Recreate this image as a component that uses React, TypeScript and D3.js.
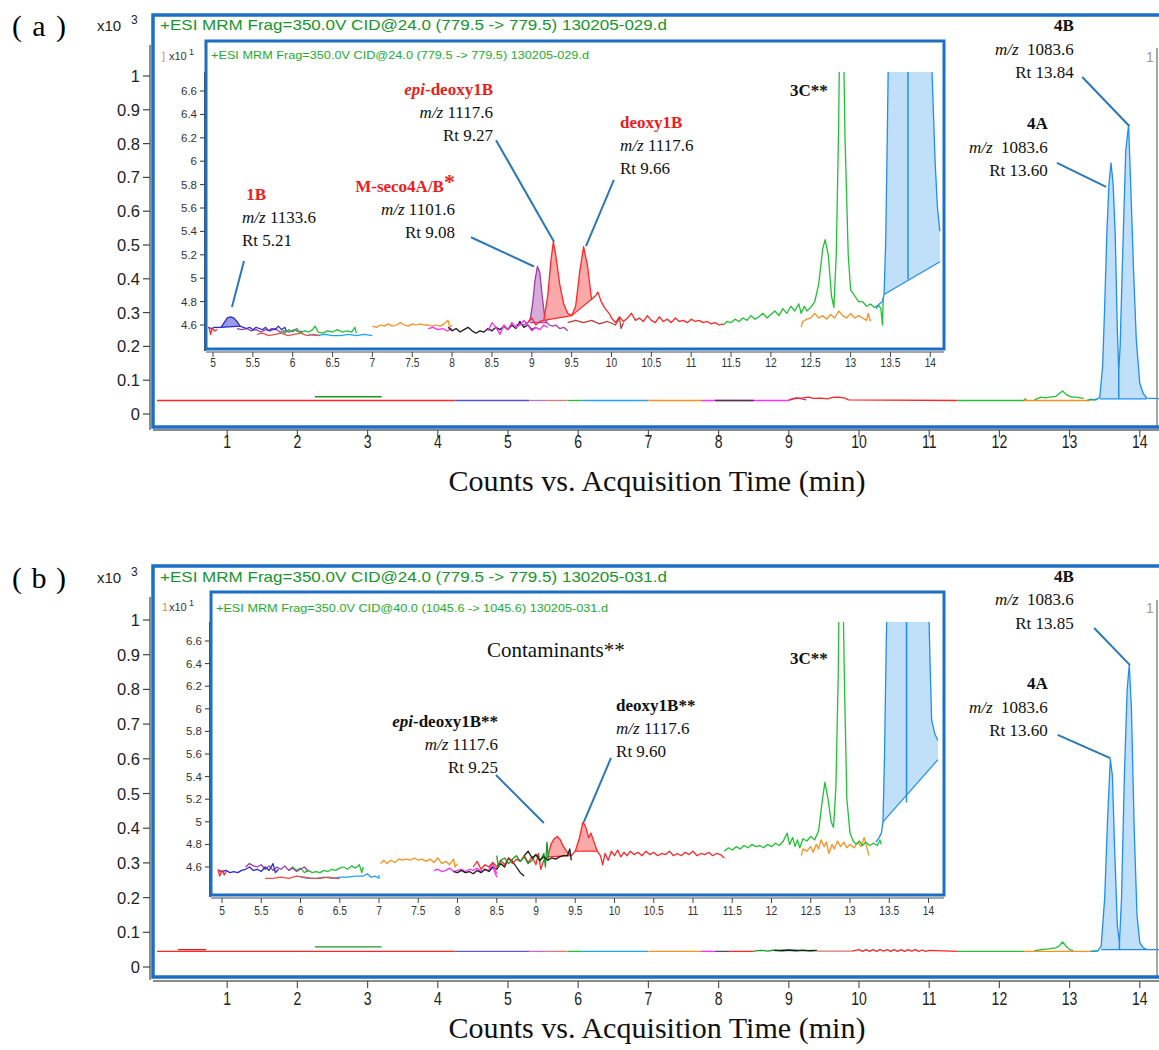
import * as d3 from 'd3';

type Pt = [number, number];

// ---------------- tick labels ----------------
const mainXTicks = [1, 2, 3, 4, 5, 6, 7, 8, 9, 10, 11, 12, 13, 14];
const mainYTicks = [0, 0.1, 0.2, 0.3, 0.4, 0.5, 0.6, 0.7, 0.8, 0.9, 1];
const insetXTicks = [5, 5.5, 6, 6.5, 7, 7.5, 8, 8.5, 9, 9.5, 10, 10.5, 11, 11.5, 12, 12.5, 13, 13.5, 14];
const insetYTicks = [4.6, 4.8, 5, 5.2, 5.4, 5.6, 5.8, 6, 6.2, 6.4, 6.6];

// ---------------- (a) main chromatogram, counts x10^3 vs min ----------------
const mainA_red: Pt[] = [[0, 0.04], [4.25, 0.04]];
const mainA_green0: Pt[] = [[2.25, 0.051], [3.2, 0.051]];
const mainA_indigo: Pt[] = [[4.25, 0.04], [5.3, 0.04]];
const mainA_mauve: Pt[] = [[5.3, 0.04], [5.55, 0.04]];
const mainA_rose: Pt[] = [[5.55, 0.04], [5.85, 0.04]];
const mainA_green1: Pt[] = [[5.85, 0.04], [6.05, 0.04]];
const mainA_sky: Pt[] = [[6.05, 0.04], [7.0, 0.04]];
const mainA_orange: Pt[] = [[7.0, 0.04], [7.75, 0.04]];
const mainA_magenta: Pt[] = [[7.75, 0.04], [7.95, 0.04], [8.5, 0.04], [9.0, 0.04]];
const mainA_black: Pt[] = [[7.95, 0.04], [8.5, 0.04]];
const mainA_purple: Pt[] = [[9.0, 0.041], [9.05, 0.045], [9.1, 0.048], [9.15, 0.046], [9.25, 0.042]];
const mainA_red2: Pt[] = [[9.0, 0.041], [9.1, 0.046], [9.2, 0.048], [9.28, 0.05], [9.35, 0.046], [9.45, 0.047], [9.55, 0.045], [9.62, 0.049], [9.7, 0.05], [9.8, 0.047], [9.85, 0.042], [11.4, 0.04]];
const mainA_green2: Pt[] = [[11.4, 0.04], [12.35, 0.04], [12.37, 0.045], [12.38, 0.04]];
const mainA_orange2: Pt[] = [[12.35, 0.04], [13.3, 0.04]];
const mainA_green3: Pt[] = [[12.5, 0.042], [12.55, 0.046], [12.6, 0.05], [12.65, 0.048], [12.72, 0.05], [12.8, 0.052], [12.85, 0.06], [12.9, 0.068], [12.95, 0.058], [13.0, 0.052], [13.05, 0.05], [13.1, 0.05], [13.15, 0.048], [13.2, 0.046]];
const mainA_green4: Pt[] = [[13.25, 0.04], [13.3, 0.044], [13.35, 0.041], [13.4, 0.043]];
const mainA_blue: Pt[] = [[13.3, 0.042], [13.38, 0.043], [13.43, 0.05], [13.47, 0.14], [13.5, 0.32], [13.53, 0.53], [13.56, 0.68], [13.59, 0.743], [13.62, 0.68], [13.65, 0.53], [13.68, 0.25], [13.7, 0.124], [13.72, 0.2], [13.75, 0.43], [13.8, 0.78], [13.84, 0.855], [13.87, 0.68], [13.91, 0.43], [13.95, 0.22], [14.0, 0.09], [14.05, 0.06], [14.1, 0.047], [14.3, 0.045]];

// ---------------- (a) inset, counts x10 vs min ----------------
const insA_blue: Pt[] = [[4.94, 4.58], [4.98, 4.57], [5.02, 4.58], [5.06, 4.58], [5.1, 4.58], [5.14, 4.62], [5.18, 4.66], [5.22, 4.67], [5.26, 4.66], [5.3, 4.63], [5.34, 4.59], [5.38, 4.58], [5.42, 4.57], [5.46, 4.58], [5.5, 4.56], [5.54, 4.58], [5.58, 4.57], [5.62, 4.56], [5.66, 4.58], [5.7, 4.55], [5.74, 4.57], [5.78, 4.56], [5.82, 4.59], [5.86, 4.56], [5.9, 4.58], [5.92, 4.55]];
const insA_red1: Pt[] = [[4.95, 4.58], [4.97, 4.52], [4.99, 4.57], [5.02, 4.55], [5.05, 4.56]];
const insA_purple1: Pt[] = [[5.3, 4.57], [5.36, 4.56], [5.42, 4.57], [5.48, 4.55], [5.54, 4.56], [5.6, 4.54], [5.66, 4.56], [5.72, 4.55], [5.78, 4.57], [5.84, 4.54], [5.9, 4.55], [5.96, 4.54], [6.02, 4.56], [6.08, 4.54], [6.12, 4.55]];
const insA_red2: Pt[] = [[5.55, 4.52], [5.62, 4.53], [5.7, 4.51], [5.78, 4.52], [5.86, 4.53], [5.94, 4.51], [6.02, 4.52], [6.1, 4.53], [6.18, 4.51], [6.26, 4.52], [6.34, 4.51]];
const insA_green1: Pt[] = [[5.86, 4.55], [5.9, 4.53], [5.95, 4.56], [6.0, 4.54], [6.05, 4.57], [6.1, 4.53], [6.15, 4.55], [6.2, 4.54], [6.25, 4.56], [6.28, 4.59], [6.32, 4.54], [6.38, 4.53], [6.44, 4.55], [6.5, 4.54], [6.56, 4.56], [6.62, 4.54], [6.68, 4.55], [6.74, 4.54], [6.78, 4.58], [6.8, 4.53]];
const insA_sky: Pt[] = [[6.2, 4.52], [6.3, 4.51], [6.4, 4.52], [6.5, 4.51], [6.6, 4.51], [6.7, 4.52], [6.8, 4.51], [6.9, 4.52], [7.0, 4.51]];
const insA_orange: Pt[] = [[7.0, 4.59], [7.05, 4.58], [7.1, 4.6], [7.15, 4.59], [7.2, 4.61], [7.25, 4.59], [7.3, 4.6], [7.35, 4.62], [7.4, 4.6], [7.45, 4.59], [7.5, 4.61], [7.55, 4.6], [7.6, 4.61], [7.65, 4.6], [7.7, 4.6], [7.75, 4.59], [7.8, 4.6], [7.85, 4.59], [7.9, 4.61], [7.95, 4.64], [7.97, 4.58], [8.0, 4.6]];
const insA_magenta1: Pt[] = [[7.7, 4.57], [7.76, 4.58], [7.82, 4.56], [7.88, 4.57], [7.94, 4.55], [8.0, 4.57]];
const insA_black: Pt[] = [[7.95, 4.58], [8.0, 4.55], [8.05, 4.57], [8.1, 4.54], [8.15, 4.56], [8.2, 4.58], [8.25, 4.55], [8.3, 4.53], [8.35, 4.55], [8.4, 4.54], [8.45, 4.57], [8.5, 4.55], [8.55, 4.58], [8.6, 4.56], [8.65, 4.59], [8.7, 4.56], [8.75, 4.6], [8.8, 4.57], [8.85, 4.63], [8.9, 4.58], [8.95, 4.6], [9.0, 4.56], [9.05, 4.58]];
const insA_magenta2: Pt[] = [[8.45, 4.55], [8.5, 4.62], [8.55, 4.58], [8.6, 4.52], [8.65, 4.6], [8.7, 4.56], [8.75, 4.62], [8.8, 4.58], [8.85, 4.6], [8.9, 4.64], [8.95, 4.6], [9.0, 4.55], [9.05, 4.58], [9.1, 4.56], [9.15, 4.6], [9.2, 4.58]];
const insA_purple2: Pt[] = [[8.8, 4.6], [8.85, 4.61], [8.9, 4.6], [8.95, 4.62], [8.98, 4.65], [9.01, 4.78], [9.04, 4.98], [9.07, 5.1], [9.1, 5.05], [9.13, 4.85], [9.16, 4.68], [9.19, 4.62], [9.22, 4.6], [9.26, 4.59], [9.3, 4.6], [9.35, 4.57], [9.4, 4.58], [9.45, 4.55]];
const insA_red3: Pt[] = [[8.95, 4.62], [9.0, 4.66], [9.05, 4.6], [9.1, 4.63], [9.15, 4.64], [9.2, 4.85], [9.24, 5.15], [9.27, 5.31], [9.3, 5.2], [9.35, 4.95], [9.4, 4.78], [9.45, 4.7], [9.5, 4.68], [9.55, 4.76], [9.6, 5.05], [9.65, 5.27], [9.7, 5.1], [9.75, 4.82], [9.8, 4.85], [9.83, 4.88], [9.87, 4.8], [9.92, 4.74], [9.97, 4.7], [10.0, 4.66], [10.05, 4.62], [10.1, 4.67], [10.15, 4.63], [10.2, 4.66], [10.25, 4.7], [10.3, 4.64], [10.35, 4.66], [10.4, 4.63], [10.45, 4.68], [10.5, 4.64], [10.55, 4.62], [10.6, 4.67], [10.65, 4.63], [10.7, 4.65], [10.75, 4.62], [10.8, 4.66], [10.85, 4.63], [10.9, 4.64], [10.95, 4.62], [11.0, 4.65], [11.05, 4.63], [11.1, 4.64], [11.15, 4.62], [11.2, 4.63], [11.25, 4.61], [11.3, 4.62], [11.35, 4.6], [11.4, 4.61]];
const insA_darkred: Pt[] = [[9.45, 4.62], [9.55, 4.64], [9.65, 4.62], [9.75, 4.64], [9.85, 4.61], [9.95, 4.63], [10.05, 4.6], [10.1, 4.66], [10.12, 4.57], [10.15, 4.62]];
const insA_green2: Pt[] = [[11.4, 4.6], [11.45, 4.63], [11.5, 4.62], [11.55, 4.65], [11.6, 4.63], [11.65, 4.66], [11.7, 4.64], [11.75, 4.68], [11.8, 4.65], [11.85, 4.67], [11.9, 4.7], [11.95, 4.66], [12.0, 4.69], [12.05, 4.72], [12.1, 4.68], [12.15, 4.74], [12.2, 4.7], [12.25, 4.76], [12.3, 4.72], [12.35, 4.78], [12.38, 4.7], [12.42, 4.76], [12.45, 4.72], [12.5, 4.75], [12.55, 4.8], [12.6, 4.95], [12.65, 5.25], [12.68, 5.33], [12.72, 5.2], [12.76, 4.85], [12.79, 4.75], [12.82, 5.2], [12.85, 6.3], [12.87, 7.5], [12.9, 7.5], [12.93, 6.2], [12.97, 5.2], [13.0, 4.9], [13.05, 4.85], [13.1, 4.8], [13.15, 4.8], [13.2, 4.76], [13.25, 4.78], [13.3, 4.75], [13.35, 4.77], [13.38, 4.74], [13.4, 4.6], [13.41, 4.84]];
const insA_orange2: Pt[] = [[12.38, 4.58], [12.4, 4.63], [12.45, 4.65], [12.5, 4.66], [12.55, 4.7], [12.6, 4.66], [12.65, 4.68], [12.7, 4.65], [12.75, 4.69], [12.8, 4.66], [12.85, 4.72], [12.9, 4.68], [12.95, 4.66], [13.0, 4.7], [13.05, 4.66], [13.1, 4.68], [13.15, 4.66], [13.2, 4.64], [13.22, 4.7], [13.25, 4.63]];
const insA_bigblue: Pt[] = [[13.32, 4.74], [13.36, 4.78], [13.4, 4.8], [13.42, 4.86], [13.44, 5.3], [13.46, 6.2], [13.48, 7.2], [13.55, 8.5], [13.7, 9.5], [13.85, 9.0], [13.95, 8.0], [14.01, 7.0], [14.03, 6.6], [14.06, 6.0], [14.09, 5.6], [14.12, 5.4]];

// ---------------- (b) main chromatogram ----------------
const mainB_red: Pt[] = [[0, 0.045], [4.25, 0.045]];
const mainB_red0: Pt[] = [[0.3, 0.05], [0.7, 0.05]];
const mainB_green0: Pt[] = [[2.25, 0.058], [3.2, 0.058]];
const mainB_indigo: Pt[] = [[4.25, 0.045], [5.3, 0.045]];
const mainB_mauve: Pt[] = [[5.3, 0.045], [5.55, 0.045]];
const mainB_rose: Pt[] = [[5.55, 0.045], [5.85, 0.045]];
const mainB_green1: Pt[] = [[5.85, 0.045], [6.05, 0.045]];
const mainB_sky: Pt[] = [[6.05, 0.045], [7.0, 0.045]];
const mainB_orange: Pt[] = [[7.0, 0.045], [7.75, 0.045]];
const mainB_magenta: Pt[] = [[7.75, 0.045], [7.95, 0.045]];
const mainB_black: Pt[] = [[7.95, 0.045], [8.15, 0.045]];
const mainB_red1: Pt[] = [[8.15, 0.045], [8.5, 0.045]];
const mainB_green2: Pt[] = [[8.5, 0.046], [8.6, 0.048], [8.7, 0.046], [8.8, 0.049], [8.9, 0.046], [9.0, 0.048], [9.1, 0.046], [9.2, 0.049], [9.3, 0.046], [9.4, 0.047]];
const mainB_black2: Pt[] = [[8.8, 0.047], [9.0, 0.049], [9.2, 0.047], [9.4, 0.048]];
const mainB_rose2: Pt[] = [[9.4, 0.046], [9.9, 0.046]];
const mainB_red2: Pt[] = [[9.9, 0.046], [10.0, 0.05], [10.05, 0.045], [10.1, 0.05], [10.15, 0.045], [10.2, 0.05], [10.25, 0.045], [10.3, 0.05], [10.35, 0.046], [10.4, 0.05], [10.45, 0.045], [10.5, 0.05], [10.55, 0.045], [10.6, 0.05], [10.65, 0.045], [10.7, 0.05], [10.75, 0.046], [10.8, 0.05], [10.85, 0.045], [10.9, 0.049], [10.95, 0.045], [11.0, 0.048], [11.4, 0.045]];
const mainB_green3: Pt[] = [[11.4, 0.045], [12.35, 0.045]];
const mainB_orange2: Pt[] = [[12.35, 0.045], [13.3, 0.045]];
const mainB_green4: Pt[] = [[12.5, 0.047], [12.6, 0.05], [12.7, 0.052], [12.8, 0.055], [12.85, 0.06], [12.9, 0.072], [12.95, 0.06], [13.0, 0.05], [13.05, 0.047]];
const mainB_green5: Pt[] = [[13.3, 0.045], [13.4, 0.047]];
const mainB_blue: Pt[] = [[13.3, 0.045], [13.4, 0.046], [13.45, 0.06], [13.5, 0.2], [13.54, 0.42], [13.58, 0.6], [13.61, 0.55], [13.64, 0.35], [13.68, 0.12], [13.71, 0.07], [13.74, 0.2], [13.78, 0.55], [13.82, 0.8], [13.85, 0.87], [13.88, 0.75], [13.92, 0.4], [13.96, 0.15], [14.0, 0.07], [14.05, 0.055], [14.1, 0.05], [14.3, 0.05]];

// ---------------- (b) inset ----------------
const insB_blue: Pt[] = [[4.95, 4.57], [5.0, 4.56], [5.05, 4.57], [5.1, 4.55], [5.15, 4.56], [5.2, 4.55], [5.25, 4.57], [5.3, 4.58], [5.35, 4.6], [5.4, 4.57], [5.45, 4.58], [5.5, 4.56], [5.55, 4.6], [5.6, 4.57], [5.65, 4.63], [5.68, 4.55], [5.72, 4.58]];
const insB_red1: Pt[] = [[4.95, 4.58], [4.97, 4.52], [5.0, 4.57], [5.03, 4.53], [5.05, 4.56]];
const insB_purple1: Pt[] = [[5.3, 4.6], [5.35, 4.63], [5.4, 4.61], [5.45, 4.6], [5.5, 4.62], [5.55, 4.58], [5.6, 4.61], [5.65, 4.57], [5.7, 4.6], [5.75, 4.58], [5.8, 4.61], [5.85, 4.57], [5.9, 4.59], [5.95, 4.56], [6.0, 4.58], [6.05, 4.6], [6.1, 4.56]];
const insB_red2: Pt[] = [[5.55, 4.5], [5.65, 4.5], [5.75, 4.51], [5.85, 4.5], [5.95, 4.52], [6.05, 4.51], [6.15, 4.5], [6.25, 4.5], [6.35, 4.51], [6.45, 4.5], [6.5, 4.5]];
const insB_green1: Pt[] = [[5.85, 4.57], [5.9, 4.6], [5.95, 4.57], [6.0, 4.59], [6.05, 4.55], [6.1, 4.57], [6.15, 4.55], [6.2, 4.56], [6.25, 4.55], [6.3, 4.57], [6.35, 4.56], [6.4, 4.58], [6.45, 4.57], [6.5, 4.59], [6.55, 4.6], [6.6, 4.58], [6.65, 4.61], [6.7, 4.59], [6.75, 4.62], [6.78, 4.55], [6.8, 4.6]];
const insB_sky: Pt[] = [[6.0, 4.51], [6.1, 4.5], [6.2, 4.5], [6.3, 4.51], [6.4, 4.5], [6.5, 4.51], [6.6, 4.51], [6.7, 4.52], [6.8, 4.52], [6.85, 4.54], [6.9, 4.51], [6.95, 4.52], [7.0, 4.5], [7.0, 4.53]];
const insB_orange: Pt[] = [[7.02, 4.63], [7.06, 4.66], [7.1, 4.63], [7.15, 4.66], [7.2, 4.64], [7.25, 4.67], [7.3, 4.66], [7.35, 4.67], [7.4, 4.66], [7.45, 4.68], [7.5, 4.66], [7.55, 4.67], [7.6, 4.65], [7.65, 4.67], [7.7, 4.64], [7.75, 4.68], [7.8, 4.63], [7.85, 4.65], [7.9, 4.62], [7.95, 4.67], [7.97, 4.6], [8.0, 4.63]];
const insB_magenta: Pt[] = [[7.7, 4.57], [7.75, 4.58], [7.8, 4.56], [7.85, 4.57], [7.9, 4.59], [7.95, 4.56], [8.0, 4.57], [8.05, 4.58], [8.1, 4.56], [8.15, 4.58], [8.2, 4.57], [8.25, 4.59], [8.3, 4.56], [8.35, 4.58], [8.4, 4.57], [8.45, 4.6], [8.5, 4.51]];
const insB_black1: Pt[] = [[7.95, 4.56], [8.0, 4.55], [8.05, 4.57], [8.1, 4.55], [8.15, 4.56], [8.2, 4.54], [8.25, 4.57], [8.3, 4.55], [8.35, 4.58], [8.4, 4.56], [8.45, 4.6], [8.5, 4.58], [8.55, 4.63], [8.6, 4.6], [8.65, 4.68], [8.7, 4.65], [8.75, 4.6], [8.8, 4.55], [8.85, 4.52]];
const insB_red3: Pt[] = [[8.2, 4.6], [8.25, 4.65], [8.3, 4.58], [8.35, 4.62], [8.4, 4.6], [8.45, 4.64], [8.5, 4.6], [8.55, 4.66], [8.6, 4.62], [8.65, 4.68], [8.7, 4.63], [8.75, 4.67], [8.8, 4.65], [8.85, 4.7], [8.9, 4.64], [8.95, 4.69], [9.0, 4.62], [9.03, 4.72], [9.06, 4.58], [9.1, 4.66], [9.15, 4.69], [9.19, 4.8], [9.23, 4.85], [9.27, 4.87], [9.31, 4.84], [9.35, 4.78], [9.4, 4.73], [9.45, 4.7], [9.5, 4.74], [9.55, 4.85], [9.6, 5.0], [9.64, 4.94], [9.67, 4.86], [9.7, 4.9], [9.74, 4.82], [9.78, 4.74], [9.82, 4.7], [9.85, 4.62], [9.88, 4.72], [9.92, 4.66], [9.96, 4.74], [10.0, 4.7], [10.04, 4.75], [10.08, 4.69], [10.12, 4.73], [10.16, 4.7], [10.2, 4.74], [10.25, 4.71], [10.3, 4.73], [10.35, 4.7], [10.4, 4.74], [10.45, 4.71], [10.5, 4.73], [10.55, 4.7], [10.6, 4.72], [10.65, 4.71], [10.7, 4.74], [10.75, 4.7], [10.8, 4.72], [10.85, 4.7], [10.9, 4.73], [10.95, 4.71], [11.0, 4.74], [11.05, 4.7], [11.1, 4.72], [11.15, 4.71], [11.2, 4.73], [11.25, 4.7], [11.3, 4.72], [11.35, 4.71], [11.4, 4.68]];
const insB_black2: Pt[] = [[8.85, 4.7], [8.9, 4.74], [8.95, 4.68], [9.0, 4.71], [9.05, 4.66], [9.1, 4.69], [9.15, 4.66], [9.2, 4.68], [9.25, 4.67], [9.3, 4.69], [9.35, 4.7], [9.4, 4.7], [9.43, 4.76], [9.45, 4.66]];
const insB_green2: Pt[] = [[8.5, 4.7], [8.52, 4.6], [8.55, 4.66], [8.6, 4.68], [8.65, 4.63], [8.7, 4.67], [8.75, 4.7], [8.8, 4.65], [8.85, 4.69], [8.9, 4.63], [8.95, 4.66], [9.0, 4.71], [9.05, 4.65], [9.1, 4.72], [9.12, 4.6], [9.14, 4.82], [9.16, 4.66]];
const insB_magenta2: Pt[] = [[8.4, 4.58], [8.45, 4.63], [8.5, 4.54]];
const insB_green3: Pt[] = [[11.4, 4.74], [11.45, 4.77], [11.5, 4.75], [11.55, 4.78], [11.6, 4.76], [11.65, 4.79], [11.7, 4.77], [11.75, 4.8], [11.8, 4.78], [11.85, 4.79], [11.9, 4.77], [11.95, 4.8], [12.0, 4.78], [12.05, 4.81], [12.1, 4.79], [12.15, 4.83], [12.2, 4.9], [12.23, 4.8], [12.27, 4.86], [12.3, 4.78], [12.33, 4.84], [12.36, 4.77], [12.4, 4.85], [12.45, 4.83], [12.5, 4.87], [12.55, 4.84], [12.6, 4.92], [12.64, 5.15], [12.68, 5.35], [12.72, 5.2], [12.76, 5.0], [12.79, 4.95], [12.82, 5.3], [12.85, 6.3], [12.87, 7.5], [12.9, 7.5], [12.93, 6.2], [12.96, 5.2], [13.0, 4.9], [13.04, 4.83], [13.08, 4.8], [13.12, 4.83], [13.16, 4.79], [13.2, 4.82], [13.25, 4.79], [13.3, 4.81], [13.35, 4.79], [13.38, 4.84], [13.4, 4.8]];
const insB_orange2: Pt[] = [[12.38, 4.7], [12.4, 4.76], [12.45, 4.74], [12.5, 4.78], [12.53, 4.73], [12.57, 4.8], [12.6, 4.76], [12.63, 4.84], [12.67, 4.78], [12.7, 4.82], [12.73, 4.72], [12.77, 4.8], [12.8, 4.76], [12.84, 4.83], [12.88, 4.78], [12.92, 4.82], [12.96, 4.77], [13.0, 4.8], [13.05, 4.77], [13.1, 4.82], [13.14, 4.78], [13.18, 4.86], [13.22, 4.76], [13.24, 4.7]];
const insB_bigblue: Pt[] = [[13.33, 4.82], [13.37, 4.86], [13.4, 4.9], [13.42, 5.0], [13.44, 5.6], [13.46, 6.5], [13.48, 7.3], [13.55, 8.5], [13.7, 9.5], [13.85, 9.0], [13.95, 8.0], [14.0, 7.0], [14.02, 6.4], [14.04, 5.9], [14.08, 5.78], [14.12, 5.72]];

// ---------------- annotation texts ----------------
const annMainA = [
  { t: 13.06, v: 1.133, anchor: 'end', lines: [[{ s: '4B', b: 1 }], [{ s: 'm/z', i: 1 }, { s: '\u00a0 1083.6' }], [{ s: 'Rt 13.84' }]], leader: [[13.18, 0.997], [13.85, 0.852]] },
  { t: 12.69, v: 0.843, anchor: 'end', lines: [[{ s: '4A', b: 1 }], [{ s: 'm/z', i: 1 }, { s: '\u00a0 1083.6' }], [{ s: 'Rt 13.60' }]], leader: [[12.82, 0.743], [13.52, 0.672]] },
];
const annInsetA = [
  { t: 8.513, v: 6.566, anchor: 'end', lines: [[{ s: 'epi', i: 1, b: 1, red: 1 }, { s: '-deoxy1B', b: 1, red: 1 }], [{ s: 'm/z', i: 1 }, { s: ' 1117.6' }], [{ s: 'Rt 9.27' }]], leader: [[8.551, 6.18], [9.28, 5.31]] },
  { t: 8.036, v: 5.737, anchor: 'end', lines: [[{ s: 'M-seco4A/B', b: 1, red: 1 }, { s: '*', b: 1, red: 1, sup: 1 }], [{ s: 'm/z', i: 1 }, { s: ' 1101.6' }], [{ s: 'Rt 9.08' }]], leader: [[8.237, 5.35], [9.028, 5.1]] },
  { t: 5.364, v: 5.668, anchor: 'start', lines: [[{ s: '\u00a01B', b: 1, red: 1 }], [{ s: 'm/z', i: 1 }, { s: ' 1133.6' }], [{ s: 'Rt 5.21' }]], leader: [[5.389, 5.147], [5.238, 4.754]] },
  { t: 10.107, v: 6.284, anchor: 'start', lines: [[{ s: 'deoxy1B', b: 1, red: 1 }], [{ s: 'm/z', i: 1 }, { s: ' 1117.6' }], [{ s: 'Rt 9.66' }]], leader: [[10.03, 5.84], [9.68, 5.275]] },
  { t: 12.24, v: 6.56, anchor: 'start', lines: [[{ s: '3C**', b: 1 }]] },
];
const annMainB = [
  { t: 13.06, v: 1.11, anchor: 'end', lines: [[{ s: '4B', b: 1 }], [{ s: 'm/z', i: 1 }, { s: '\u00a0 1083.6' }], [{ s: 'Rt 13.85' }]], leader: [[13.35, 0.977], [13.86, 0.87]] },
  { t: 12.69, v: 0.801, anchor: 'end', lines: [[{ s: '4A', b: 1 }], [{ s: 'm/z', i: 1 }, { s: '\u00a0 1083.6' }], [{ s: 'Rt 13.60' }]], leader: [[12.83, 0.669], [13.58, 0.602]] },
];
const annInsetB = [
  { t: 8.376, v: 6.458, anchor: 'start', size: 21, lines: [[{ s: 'Contaminants**' }]] },
  { t: 8.516, v: 5.839, anchor: 'end', lines: [[{ s: 'epi', i: 1, b: 1 }, { s: '-deoxy1B**', b: 1 }], [{ s: 'm/z', i: 1 }, { s: ' 1117.6' }], [{ s: 'Rt 9.25' }]], leader: [[8.49, 5.414], [9.1, 4.99]] },
  { t: 10.02, v: 5.98, anchor: 'start', lines: [[{ s: 'deoxy1B**', b: 1 }], [{ s: 'm/z', i: 1 }, { s: ' 1117.6' }], [{ s: 'Rt 9.60' }]], leader: [[9.955, 5.565], [9.61, 5.0]] },
  { t: 12.236, v: 6.4, anchor: 'start', lines: [[{ s: '3C**', b: 1 }]] },
];

const SERIF = '"Liberation Serif", "Times New Roman", serif';
const SANS = '"Liberation Sans", Arial, sans-serif';
const W = 1159;
const C = {
  red: '#ff2626', blue: '#2a2ad8', purple: '#a23aa6', green: '#1fc232', dgreen: '#139a22', sky: '#1ea4f0',
  orange: '#ff9020', magenta: '#ff2cff', black: '#1c1c1c', darkred: '#b83a3a', big: '#1e8ff0',
  frame: '#1b6fc4', leader: '#2a78b8', red2: '#e8504a'
};

const mainTracesA = [
  { c: C.red, d: mainA_red }, { c: C.dgreen, d: mainA_green0 }, { c: '#5050d8', d: mainA_indigo },
  { c: '#c070c0', d: mainA_mauve }, { c: '#e07878', d: mainA_rose }, { c: C.green, d: mainA_green1 },
  { c: C.sky, d: mainA_sky }, { c: C.orange, d: mainA_orange }, { c: C.magenta, d: mainA_magenta },
  { c: '#404040', d: mainA_black }, { c: C.purple, d: mainA_purple }, { c: C.red, d: mainA_red2 },
  { c: C.green, d: mainA_green2 }, { c: C.orange, d: mainA_orange2 }, { c: C.green, d: mainA_green3 },
  { c: C.green, d: mainA_green4 },
  { c: C.big, d: mainA_blue, fill: { from: 13.43, to: 14.1, base: [0.045, 0.045], color: '#b9dbf7' }, div: [[13.7, 0.045, 0.124]] },
];
const insetTracesA = [
  { c: C.sky, d: insA_sky }, { c: C.red2, d: insA_red2 }, { c: C.purple, d: insA_purple1 }, { c: C.green, d: insA_green1 },
  { c: C.blue, d: insA_blue, fill: { from: 5.1, to: 5.34, base: [4.58, 4.59], color: '#8f90e6' } },
  { c: C.red, d: insA_red1 }, { c: C.orange, d: insA_orange }, { c: C.magenta, d: insA_magenta1 },
  { c: C.black, d: insA_black }, { c: C.magenta, d: insA_magenta2 }, { c: C.darkred, d: insA_darkred },
  { c: C.purple, d: insA_purple2, fill: { from: 8.98, to: 9.19, base: [4.62, 4.62], color: '#d3a2d6' } },
  { c: C.red, d: insA_red3, fills: [{ from: 9.15, to: 9.5, base: [4.64, 4.68], color: '#f8a0a0' }, { from: 9.5, to: 9.75, base: [4.68, 4.82], color: '#f8a0a0' }] },
  { c: C.orange, d: insA_orange2 }, { c: C.green, d: insA_green2 },
  { c: C.big, d: insA_bigblue, fill: { from: 13.42, to: 14.12, base: [4.86, 5.14], color: '#b9dbf7' }, div: [[13.72, 4.99, 9.5]] },
];
const mainTracesB = [
  { c: C.red, d: mainB_red }, { c: '#e01818', d: mainB_red0 }, { c: C.dgreen, d: mainB_green0 },
  { c: '#5a5ad8', d: mainB_indigo }, { c: '#c070c0', d: mainB_mauve }, { c: '#e07878', d: mainB_rose },
  { c: C.green, d: mainB_green1 }, { c: C.sky, d: mainB_sky }, { c: C.orange, d: mainB_orange },
  { c: C.magenta, d: mainB_magenta }, { c: '#505050', d: mainB_black }, { c: C.red, d: mainB_red1 },
  { c: C.dgreen, d: mainB_green2 }, { c: C.black, d: mainB_black2 }, { c: '#e07070', d: mainB_rose2 },
  { c: C.red, d: mainB_red2 }, { c: C.green, d: mainB_green3 }, { c: C.orange, d: mainB_orange2 },
  { c: C.green, d: mainB_green4 }, { c: C.green, d: mainB_green5 },
  { c: C.big, d: mainB_blue, fill: { from: 13.45, to: 14.1, base: [0.05, 0.05], color: '#b9dbf7' }, div: [[13.71, 0.05, 0.07]] },
];
const insetTracesB = [
  { c: C.sky, d: insB_sky }, { c: C.red2, d: insB_red2 }, { c: C.green, d: insB_green1 }, { c: C.purple, d: insB_purple1 },
  { c: C.blue, d: insB_blue }, { c: C.red, d: insB_red1 }, { c: C.orange, d: insB_orange },
  { c: C.magenta, d: insB_magenta }, { c: C.black, d: insB_black1 }, { c: C.magenta, d: insB_magenta2 },
  { c: C.red, d: insB_red3, fills: [{ from: 9.15, to: 9.45, base: [4.69, 4.7], color: '#f8a0a0' }, { from: 9.5, to: 9.78, base: [4.74, 4.74], color: '#f8a0a0' }] },
  { c: C.dgreen, d: insB_green2 }, { c: C.black, d: insB_black2 },
  { c: C.orange, d: insB_orange2 }, { c: C.green, d: insB_green3 },
  { c: C.big, d: insB_bigblue, fill: { from: 13.42, to: 14.12, base: [5.0, 5.55], color: '#b9dbf7' }, div: [[13.72, 5.17, 9.5]] },
];

const panelA = {
  id: 'a', letter: 'a', labelY: 36, yAxisTop: 45, xAxisY: 430, tickLabelY: 448, axisTitleY: 491,
  frame: { x: 153, y: 15, bottom: 427 }, mainY: [414, 76], title: '+ESI MRM Frag=350.0V CID@24.0 (779.5 -> 779.5) 130205-029.d', titleY: 30,
  rightLine: [48, 426], rightOneY: 62,
  inset: { x0: 206, y0: 41, x1: 944, y1: 349, axisX: 205, axisTop: 72, xr: [213, 930.3], yr: [325, 91], bg: [157, 38, 790, 336],
    title: '+ESI MRM Frag=350.0V CID@24.0 (779.5 -> 779.5) 130205-029.d', titleLen: 378, titleX: 211, titleY: 59, exp: ']', expY: 60, tickY: 367 },
  mainTraces: mainTracesA, insetTraces: insetTracesA, mainAnn: annMainA, insetAnn: annInsetA, gap: 23.5,
};
const panelB = {
  id: 'b', letter: 'b', labelY: 588, yAxisTop: 597, xAxisY: 981, tickLabelY: 1005, axisTitleY: 1038,
  frame: { x: 153, y: 566, bottom: 977 }, mainY: [967, 620], title: '+ESI MRM Frag=350.0V CID@24.0 (779.5 -> 779.5) 130205-031.d', titleY: 582,
  rightLine: [600, 976], rightOneY: 613,
  inset: { x0: 211, y0: 592, x1: 944, y1: 895, axisX: 210, axisTop: 622, xr: [222, 928.5], yr: [867, 641], bg: [157, 589, 790, 333],
    title: '+ESI MRM Frag=350.0V CID@40.0 (1045.6 -> 1045.6) 130205-031.d', titleLen: 392, titleX: 216, titleY: 612, exp: '1', expY: 611, tickY: 915 },
  mainTraces: mainTracesB, insetTraces: insetTracesB, mainAnn: annMainB, insetAnn: annInsetB, gap: 23.5,
};

function Trace({ tr, x, y }: any) {
  const line = d3.line<Pt>().x(p => x(p[0])).y(p => y(p[1]));
  const fills = tr.fills || (tr.fill ? [tr.fill] : []);
  return (
    <g>
      {fills.map((f: any, i: number) => {
        const base = d3.scaleLinear().domain([f.from, f.to]).range(f.base);
        const pts = tr.d.filter((p: Pt) => p[0] >= f.from && p[0] <= f.to);
        const area = d3.area<Pt>().x(p => x(p[0])).y0(p => y(base(p[0]))).y1(p => y(p[1]));
        return (
          <g key={i}>
            <path d={area(pts) || ''} fill={f.color} opacity={0.9} />
            <line x1={x(f.from)} y1={y(f.base[0])} x2={x(f.to)} y2={y(f.base[1])} stroke={tr.c} strokeWidth={1.2} />
          </g>
        );
      })}
      {(tr.div || []).map((dv: number[], i: number) => (
        <line key={'d' + i} x1={x(dv[0])} x2={x(dv[0])} y1={y(dv[1])} y2={y(dv[2])} stroke={tr.c} strokeWidth={1.5} />
      ))}
      <path d={line(tr.d) || ''} fill="none" stroke={tr.c} strokeWidth={1.3} strokeLinejoin="round" />
    </g>
  );
}

function Annotation({ a, x, y, gap }: any) {
  const X = x(a.t), Y = y(a.v);
  const size = a.size || 17;
  return (
    <g>
      {a.leader && (
        <line x1={x(a.leader[0][0])} y1={y(a.leader[0][1])} x2={x(a.leader[1][0])} y2={y(a.leader[1][1])}
          stroke={C.leader} strokeWidth={2} />
      )}
      {a.lines.map((ln: any[], i: number) => (
        <text key={i} x={X} y={Y + i * gap} textAnchor={a.anchor} fontFamily={SERIF} fontSize={size} fill="#111">
          {ln.map((p: any, j: number) => (
            <tspan key={j} fontStyle={p.i ? 'italic' : 'normal'} fontWeight={p.b ? 'bold' : 'normal'}
              fill={p.red ? '#ee1c1c' : '#111'} fontSize={p.sup ? size + 5 : size} dy={p.sup ? -3 : 0}>{p.s}</tspan>
          ))}
        </text>
      ))}
    </g>
  );
}

function Panel({ cfg }: any) {
  const f = cfg.frame;
  const ins = cfg.inset;
  const x = d3.scaleLinear().domain([0, 14]).range([157, 157 + 70.2 * 14]);
  const y = d3.scaleLinear().domain([0, 1]).range(cfg.mainY);
  const xi = d3.scaleLinear().domain([5, 14]).range(ins.xr);
  const yi = d3.scaleLinear().domain([4.6, 6.6]).range(ins.yr);
  const fmt = (t: number) => (Number.isInteger(t) ? String(t) : t.toFixed(1));
  return (
    <g>
      <defs>
        <clipPath id={'clipM' + cfg.id}><rect x={f.x + 2} y={f.y + 2} width={W - f.x} height={f.bottom - f.y - 4} /></clipPath>
        <clipPath id={'clipI' + cfg.id}><rect x={ins.x0 + 2} y={ins.axisTop} width={ins.x1 - ins.x0 - 4} height={ins.y1 - ins.axisTop - 2} /></clipPath>
      </defs>

      {/* panel label and exponent */}
      <text x={12} y={cfg.labelY} fontFamily={SERIF} fontSize={30} textLength={54} lengthAdjust="spacing">( {cfg.letter} )</text>
      <text x={97} y={cfg.labelY - 5} fontFamily={SANS} fontSize={15} fill="#222">x10</text>
      <text x={131} y={cfg.labelY - 12} fontFamily={SANS} fontSize={12} fill="#222">3</text>

      {/* main y axis */}
      <line x1={150} x2={150} y1={cfg.yAxisTop} y2={f.bottom + 3} stroke="#666" strokeWidth={1.5} />
      {mainYTicks.map(v => (
        <g key={v}>
          <line x1={143} x2={150} y1={y(v)} y2={y(v)} stroke="#444" strokeWidth={1.2} />
          <text x={140} y={y(v) + 6} textAnchor="end" fontFamily={SANS} fontSize={16.5} fill="#222">{v}</text>
        </g>
      ))}

      {/* main x axis */}
      <line x1={f.x} x2={W} y1={cfg.xAxisY} y2={cfg.xAxisY} stroke="#8a8a8a" strokeWidth={2.2} />
      {mainXTicks.map(t => (
        <g key={t}>
          <line x1={x(t)} x2={x(t)} y1={cfg.xAxisY} y2={cfg.xAxisY + 7} stroke="#555" strokeWidth={1.2} />
          <text transform={`translate(${x(t)},${cfg.tickLabelY}) scale(0.78,1)`} textAnchor="middle" fontFamily={SANS} fontSize={18} fill="#222">{t}</text>
        </g>
      ))}
      <text x={657} y={cfg.axisTitleY} textAnchor="middle" fontFamily={SERIF} fontSize={29} textLength={417} lengthAdjust="spacingAndGlyphs" fill="#111">
        Counts vs. Acquisition Time (min)
      </text>

      {/* main plot */}
      <rect x={f.x} y={f.y} width={W - f.x + 4} height={f.bottom - f.y} fill="#fff" />
      <g clipPath={`url(#clipM${cfg.id})`}>
        {cfg.mainTraces.map((tr: any, i: number) => <Trace key={i} tr={tr} x={x} y={y} />)}
      </g>
      <line x1={1157} x2={1157} y1={cfg.rightLine[0]} y2={cfg.rightLine[1]} stroke="#8a8a8a" strokeWidth={1.5} />
      <text x={1146} y={cfg.rightOneY} fontFamily={SANS} fontSize={14} fill="#a89a88">1</text>
      <text x={160} y={cfg.titleY} fontFamily={SANS} fontSize={15} fill="#16952a" textLength={507} lengthAdjust="spacingAndGlyphs">{cfg.title}</text>

      {/* inset */}
      <rect x={ins.bg[0]} y={ins.bg[1]} width={ins.bg[2]} height={ins.bg[3]} fill="#fff" />
      <text x={162} y={ins.expY} fontFamily={SANS} fontSize={11} fill="#c8905a">{ins.exp}</text>
      <text x={169} y={ins.expY} fontFamily={SANS} fontSize={11} fill="#333">x10</text>
      <text x={189} y={ins.expY - 5} fontFamily={SANS} fontSize={9} fill="#333">1</text>
      <line x1={ins.axisX} x2={ins.axisX} y1={ins.axisTop} y2={ins.y1 + 2} stroke="#111" strokeWidth={1.5} />
      {insetYTicks.map(v => (
        <g key={v}>
          <line x1={ins.axisX - 5} x2={ins.axisX} y1={yi(v)} y2={yi(v)} stroke="#333" />
          <text x={ins.axisX - 8} y={yi(v) + 4} textAnchor="end" fontFamily={SANS} fontSize={11.5} fill="#333">{fmt(v)}</text>
        </g>
      ))}
      <line x1={ins.x0} x2={ins.x1} y1={ins.y1 + 3} y2={ins.y1 + 3} stroke="#888" strokeWidth={1.5} />
      {insetXTicks.map(t => (
        <g key={t}>
          <line x1={xi(t)} x2={xi(t)} y1={ins.y1 + 3} y2={ins.y1 + 8} stroke="#444" />
          <text transform={`translate(${xi(t)},${ins.tickY}) scale(0.85,1)`} textAnchor="middle" fontFamily={SANS} fontSize={12} fill="#333">{fmt(t)}</text>
        </g>
      ))}
      <g clipPath={`url(#clipI${cfg.id})`}>
        {cfg.insetTraces.map((tr: any, i: number) => <Trace key={i} tr={tr} x={xi} y={yi} />)}
      </g>
      <rect x={ins.x0} y={ins.y0} width={ins.x1 - ins.x0} height={ins.y1 - ins.y0} fill="none" stroke={C.frame} strokeWidth={3} />
      <text x={ins.titleX} y={ins.titleY} fontFamily={SANS} fontSize={11} fill="#22ac2e" textLength={ins.titleLen} lengthAdjust="spacingAndGlyphs">{ins.title}</text>
      {cfg.insetAnn.map((a: any, i: number) => <Annotation key={i} a={a} x={xi} y={yi} gap={23} />)}

      {/* main annotations and frame */}
      {cfg.mainAnn.map((a: any, i: number) => <Annotation key={i} a={a} x={x} y={y} gap={cfg.gap} />)}
      <rect x={f.x} y={f.y} width={W - f.x + 6} height={f.bottom - f.y} fill="none" stroke={C.frame} strokeWidth={3.5} />
    </g>
  );
}

export default function App() {
  return (
    <svg width={W} height={1050} style={{ position: 'absolute', left: 0, top: 0, background: '#fff' }}>
      <rect width={W} height={1050} fill="#fff" />
      <Panel cfg={panelA} />
      <Panel cfg={panelB} />
    </svg>
  );
}
